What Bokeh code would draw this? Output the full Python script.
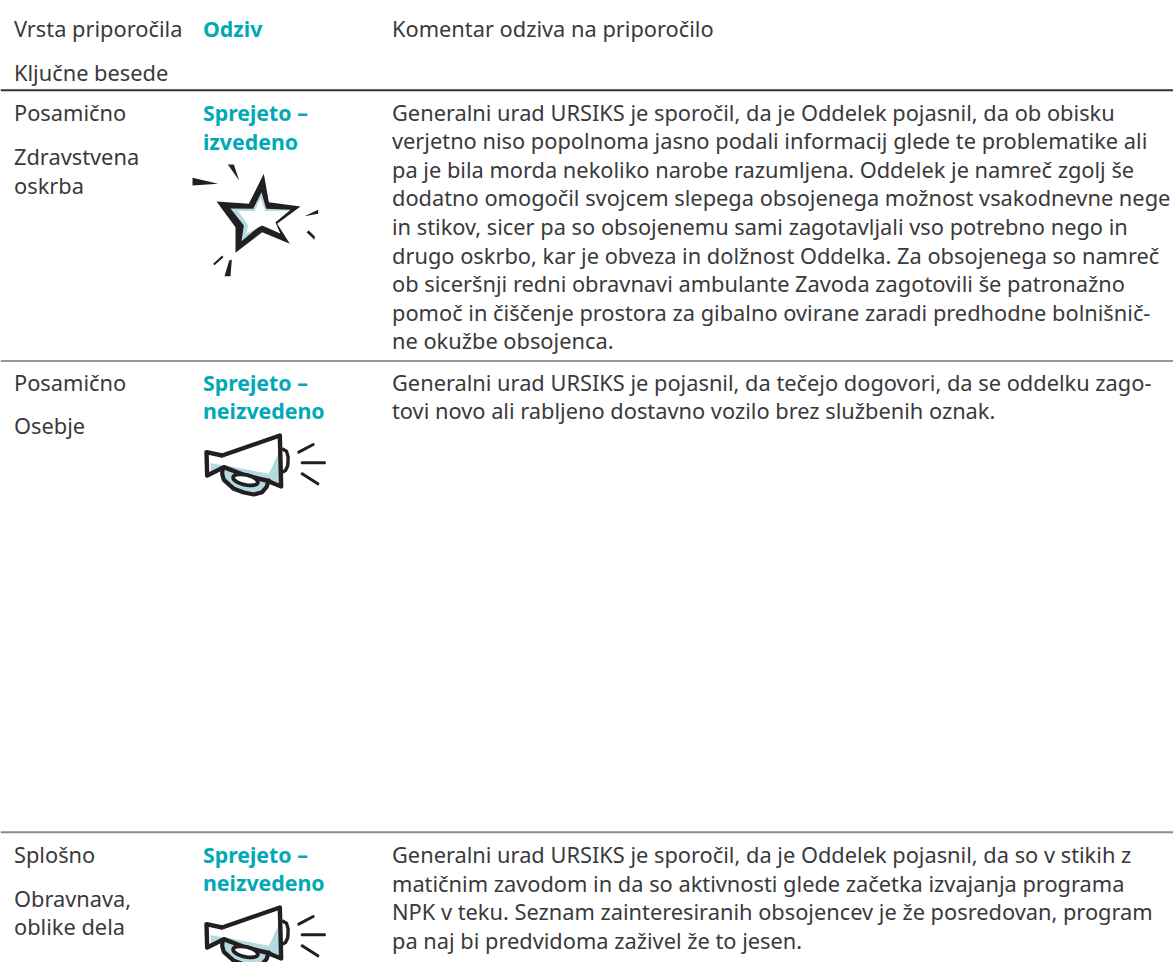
from bokeh.plotting import figure
from bokeh.embed import file_html
from bokeh.resources import INLINE
from bokeh.core.properties import value
from bokeh.models import Range1d
import math

FONT = "Noto Sans"
FS = "21.8px"
FS_BOLD = "21.3px"
DARK = "#3a393b"
TEAL = "#00a9b5"
ICON_BLUE = "#b2dadf"
INK = "#231f20"
BASE_SHIFT = -7.5

header_left = ["Vrsta priporočila", "Ključne besede"]
header_mid = "Odziv"
header_right = "Komentar odziva na priporočilo"

row1_left = [("Posamično", 119), ("Zdravstvena", 163), ("oskrba", 192)]
row1_mid = [("Sprejeto –", 119), ("izvedeno", 148)]
row1_body = [
    "Generalni urad URSIKS je sporočil, da je Oddelek pojasnil, da ob obisku",
    "verjetno niso popolnoma jasno podali informacij glede te problematike ali",
    "pa je bila morda nekoliko narobe razumljena. Oddelek je namreč zgolj še",
    "dodatno omogočil svojcem slepega obsojenega možnost vsakodnevne nege",
    "in stikov, sicer pa so obsojenemu sami zagotavljali vso potrebno nego in",
    "drugo oskrbo, kar je obveza in dolžnost Oddelka. Za obsojenega so namreč",
    "ob siceršnji redni obravnavi ambulante Zavoda zagotovili še patronažno",
    "pomoč in čiščenje prostora za gibalno ovirane zaradi predhodne bolnišnič-",
    "ne okužbe obsojenca.",
]
row2_left = [("Posamično", 389), ("Osebje", 432.5)]
row2_mid = [("Sprejeto –", 389), ("neizvedeno", 417.7)]
row2_body = [
    "Generalni urad URSIKS je pojasnil, da tečejo dogovori, da se oddelku zago-",
    "tovi novo ali rabljeno dostavno vozilo brez službenih oznak.",
]
row3_left = [("Splošno", 861.5), ("Obravnava,", 905), ("oblike dela", 933)]
row3_mid = [("Sprejeto –", 861.5), ("neizvedeno", 889)]
row3_body = [
    "Generalni urad URSIKS je sporočil, da je Oddelek pojasnil, da so v stikih z",
    "matičnim zavodom in da so aktivnosti glede začetka izvajanja programa",
    "NPK v teku. Seznam zainteresiranih obsojencev je že posredovan, program",
    "pa naj bi predvidoma zaživel že to jesen.",
]

p = figure(width=1173, height=962, x_range=Range1d(0, 1173), y_range=Range1d(962, 0),
           output_backend="svg", toolbar_location=None, min_border=0,
           outline_line_color=None, background_fill_color="white")
p.xaxis.visible = False
p.yaxis.visible = False
p.xgrid.visible = False
p.ygrid.visible = False


def put(x, y, s, color=DARK, bold=False):
    p.text([x], [y + BASE_SHIFT], text=[s], text_font=value(FONT),
           text_font_size=value(FS_BOLD if bold else FS),
           text_color=color, text_baseline="alphabetic", text_align="left",
           text_font_style="bold" if bold else "normal")


put(13.5, 35, header_left[0]); put(13.5, 79, header_left[1])
put(202.5, 35, header_mid, TEAL, True)
put(391.5, 35, header_right)

for rows, mid in ((row1_left, row1_mid), (row2_left, row2_mid), (row3_left, row3_mid)):
    for s, y in rows:
        put(13.5, y, s)
    for s, y in mid:
        put(202.5, y, s, TEAL, True)

for lines, y0 in ((row1_body, 119), (row2_body, 389.3), (row3_body, 861.5)):
    for i, s in enumerate(lines):
        put(391.5, y0 + i * 28.6, s)

p.line([0, 1173], [89.7, 89.7], line_color="#333333", line_width=2)
p.line([0, 1173], [360.5, 360.5], line_color="#333333", line_width=1)
p.line([0, 1173], [831.7, 831.7], line_color="#8a8a8a", line_width=2)


# icon geometry, in units of the 3x crop of the reference
def tr(pts, ox, oy):
    return [ox + a / 3 for a, b in pts], [oy + b / 3 for a, b in pts]


STAR_OUT = [(250,160),(265,245),(360,258),(290,310),(328,370),(245,335),(165,397),(165,320),(108,243),(205,250)]
STAR_BLUE = [(243,215),(257,265),(330,268),(283,305),(300,340),(245,310),(183,362),(190,315),(150,264),(218,265)]
STAR_WHITE = [(240,235),(255,272),(327,270),(285,305),(298,338),(245,315),(197,340),(203,315),(172,270),(222,272)]
RAYS = [
    [(36,172),(113,190),(36,195)],
    [(142,132),(160,132),(176,180)],
    [(372,287),(413,268),(413,280)],
    [(378,335),(385,330),(403,348),(402,358)],
    [(98,430),(125,405),(129,410),(102,434)],
    [(132,467),(146,420),(154,418),(150,467)],
]
ox, oy = 180, 120
xs, ys = tr(STAR_OUT, ox, oy); p.patch(xs, ys, fill_color=INK, line_color=None)
xs, ys = tr(STAR_BLUE, ox, oy); p.patch(xs, ys, fill_color=ICON_BLUE, line_color=None)
xs, ys = tr(STAR_WHITE, ox, oy); p.patch(xs, ys, fill_color="white", line_color=None)
for r in RAYS:
    xs, ys = tr(r, ox, oy); p.patch(xs, ys, fill_color=INK, line_color=None)

MEGA_BODY = [(48,95),(95,105),(268,45),(272,198),(228,180),(165,165),(100,140),(50,165)]
MEGA_BLUE = [(60,128),(105,135),(235,160),(265,95),(268,190),(228,175),(100,142),(62,158)]
MEGA_TUBE = [(97,142),(95,160),(100,178),(130,205),(160,216),(190,222),(215,215),(228,200),(235,180)]
MEGA_HANDLE = [(275,85),(288,92),(293,110),(292,135),(285,150),(275,155)]
MEGA_RAYS = [[(325,95),(368,72)], [(335,127),(402,127)], [(335,160),(382,190)]]


def ellipse(cx, cy, rx, ry, ang, n=32):
    c, s = math.cos(ang), math.sin(ang)
    out = []
    for i in range(n):
        t = 2 * math.pi * i / n
        a, b = rx * math.cos(t), ry * math.sin(t)
        out.append((cx + a * c - b * s, cy + a * s + b * c))
    return out


def megaphone(ox, oy):
    xs, ys = tr(MEGA_BODY, ox, oy); p.patch(xs, ys, fill_color="white", line_color=None)
    xs, ys = tr(MEGA_TUBE, ox, oy)
    p.patch(xs, ys, fill_color=ICON_BLUE, line_color=None)
    xs, ys = tr(MEGA_BLUE, ox, oy); p.patch(xs, ys, fill_color=ICON_BLUE, line_color=None)
    xs, ys = tr(MEGA_TUBE, ox, oy)
    p.line(xs, ys, line_color=INK, line_width=4.2, line_join="round", line_cap="round")
    xs, ys = tr(MEGA_BODY + MEGA_BODY[:1], ox, oy)
    p.line(xs, ys, line_color=INK, line_width=4.4, line_join="round", line_cap="round")
    el = ellipse(165, 178, 38, 15, 0.22)
    xs, ys = tr(el + el[:1], ox, oy)
    p.patch(xs, ys, fill_color="white", line_color=INK, line_width=3.8)
    xs, ys = tr(MEGA_HANDLE, ox, oy)
    p.line(xs, ys, line_color=INK, line_width=3.4, line_join="round")
    for r in MEGA_RAYS:
        xs, ys = tr(r, ox, oy)
        p.line(xs, ys, line_color=INK, line_width=3, line_cap="round")


megaphone(190, 420)
megaphone(190, 892)

html = file_html(p, INLINE)
html = html.replace("<head>", "<head><style>html,body{margin:0!important;overflow:hidden}</style>", 1)
open("out.html", "w").write(html)
